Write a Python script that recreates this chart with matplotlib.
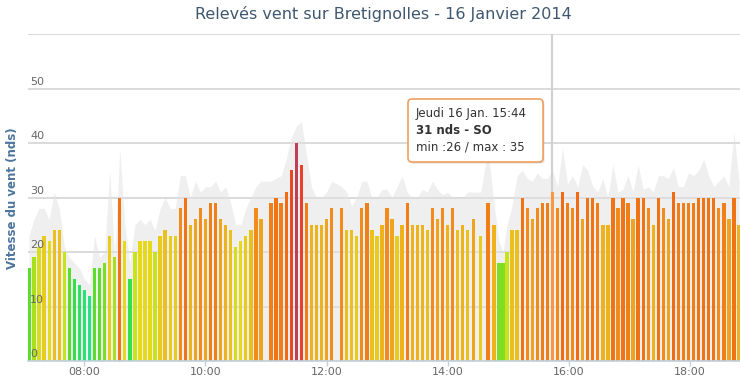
import matplotlib
matplotlib.use('Agg')
import matplotlib.pyplot as plt
from matplotlib.colors import LinearSegmentedColormap
from matplotlib.patches import FancyBboxPatch
from matplotlib.transforms import IdentityTransform
import numpy as np

# relevés toutes les ~5 minutes (heure, vent moyen en noeuds, rafale max)
times = [
    "07:05", "07:10", "07:15", "07:20", "07:25", "07:30", "07:35", "07:40", "07:45", "07:50", "07:55",
    "08:00", "08:05", "08:10", "08:15", "08:20", "08:25", "08:30", "08:35", "08:40", "08:45", "08:50", "08:55",
    "09:00", "09:05", "09:10", "09:15", "09:20", "09:25", "09:30", "09:35", "09:40", "09:45", "09:50", "09:55",
    "10:00", "10:05", "10:10", "10:15", "10:20", "10:25", "10:30", "10:35", "10:40", "10:45", "10:50", "10:55",
    "11:05", "11:10", "11:15", "11:20", "11:25", "11:30", "11:35", "11:40", "11:45", "11:50", "11:55",
    "12:00", "12:05", "12:15", "12:20", "12:25", "12:30", "12:35", "12:40", "12:45", "12:50", "12:55",
    "13:00", "13:05", "13:10", "13:15", "13:20", "13:25", "13:30", "13:35", "13:40", "13:45", "13:50", "13:55",
    "14:00", "14:05", "14:10", "14:15", "14:20", "14:26", "14:33", "14:40", "14:46", "14:51", "14:55", "14:59",
    "15:04", "15:09", "15:14", "15:19", "15:24", "15:29", "15:34", "15:39", "15:44", "15:49", "15:54", "15:59",
    "16:04", "16:09", "16:14", "16:19", "16:24", "16:29", "16:34", "16:39", "16:44", "16:49", "16:54", "16:59",
    "17:04", "17:09", "17:14", "17:19", "17:24", "17:29", "17:34", "17:39", "17:44", "17:49", "17:54", "17:59",
    "18:04", "18:09", "18:14", "18:19", "18:24", "18:29", "18:34", "18:39", "18:44", "18:49",
]
speeds = [
    17, 19, 21, 23, 22, 24, 24, 20, 17, 15, 14,
    13, 12, 17, 17, 18, 23, 19, 30, 22, 15, 20, 22,
    22, 22, 20, 23, 24, 23, 23, 28, 30, 25, 26, 28,
    26, 29, 29, 26, 25, 24, 21, 22, 23, 24, 28, 26,
    29, 30, 29, 31, 35, 40, 36, 29, 25, 25, 25,
    26, 28, 28, 24, 24, 23, 28, 29, 24, 23, 25,
    28, 26, 23, 25, 29, 25, 25, 25, 24, 28, 26, 28,
    25, 28, 24, 25, 24, 26, 23, 29, 25, 18, 18, 20,
    24, 24, 30, 28, 26, 28, 29, 29, 31, 28, 31, 29,
    28, 31, 26, 30, 30, 29, 25, 25, 30, 28, 30, 29,
    26, 30, 30, 28, 25, 30, 28, 26, 31, 29, 29, 29,
    29, 30, 30, 30, 30, 28, 29, 26, 30, 25,
]
gusts = [
    23, 26, 28, 28, 26, 31, 28, 21, 19, 18, 17,
    15, 14, 23, 19, 20, 35, 19, 39, 25, 18, 25, 26,
    25, 26, 24, 28, 30, 28, 28, 34, 34, 30, 33, 31,
    32, 32, 33, 31, 32, 29, 25, 25, 28, 30, 32, 33,
    33, 33.5, 34, 37, 41, 43, 44, 38, 32, 30, 30,
    31, 33, 32, 31, 28.5, 30, 33, 33, 30, 30, 31.5,
    31.5, 30, 32, 34, 31, 30, 30, 31.5, 31, 33, 31.5, 30.5,
    31, 30, 30, 30, 31, 31, 31, 39, 29, 22, 20, 25,
    28.5, 34, 35, 33.5, 33, 34.5, 33.5, 33.5, 35, 32, 39, 32.5,
    34, 32, 36, 35, 32, 31, 33.5, 30, 36, 31, 31.5, 34,
    31, 36, 31.5, 32, 31, 34, 34, 33.5, 35.5, 32, 32, 34.5,
    34, 35, 37, 34, 32, 33, 34, 32, 42, 33,
]
hour_ticks = ["08:00", "10:00", "12:00", "14:00", "16:00", "18:00"]
y_ticks = [0, 10, 20, 30, 40, 50, 60]

hover_time = "15:44"
tooltip_lines = ["Jeudi 16 Jan. 15:44", "31 nds - SO", "min :26 / max : 35"]


def to_minutes(hhmm):
    h, m = hhmm.split(":")
    return int(h) * 60 + int(m)


x = np.array([to_minutes(t) for t in times])
speeds = np.array(speeds)

# couleur selon la force du vent
levels = [12, 15, 17, 19, 20, 22, 24, 26, 28, 30, 33, 36, 40]
level_colors = ['#22e38a', '#33e04a', '#5cdd2a', '#a8e01c', '#c8e418', '#e6d81a',
                '#ecc01c', '#f0a41c', '#f28a1c', '#f07414', '#f05a10', '#e8402a', '#bf3f55']
lo, hi = levels[0], levels[-1]
cmap = LinearSegmentedColormap.from_list(
    'vent', [((v - lo) / (hi - lo), c) for v, c in zip(levels, level_colors)])
bar_colors = [cmap(np.clip((v - lo) / (hi - lo), 0, 1)) for v in speeds]
hover_idx = times.index(hover_time)
bar_colors[hover_idx] = '#f79845'

fig = plt.figure(figsize=(7.4, 3.8), dpi=100)
ax = fig.add_axes([28 / 740, 19 / 380, 712 / 740, 327 / 380])

ax.fill_between(x, 0, gusts, color='#e2e2e2', alpha=0.55, lw=0, zorder=2)
ax.axvline(to_minutes(hover_time), color='#d0d0d0', lw=1.5, zorder=2.5)
ax.bar(x, speeds, width=3.3, color=bar_colors, linewidth=0, zorder=3)

ax.set_xlim(424, 1130)
ax.set_ylim(0, 60)
ax.set_yticks(y_ticks)
ax.yaxis.grid(True, color='#d8d8d8', lw=1.3, zorder=1)
ax.set_axisbelow(True)
ax.tick_params(axis='y', length=0, labelleft=False)
for v in y_ticks[:-1]:
    ax.annotate(str(v), xy=(0, v), xycoords=('axes fraction', 'data'),
                xytext=(1.5, 1.2), textcoords='offset points',
                ha='left', va='bottom', fontsize=8, color='#666666', zorder=5)

ax.set_xticks([to_minutes(t) for t in hour_ticks])
ax.set_xticklabels(hour_ticks)
ax.tick_params(axis='x', length=3.6, width=1, color='#c0d0e0', pad=1,
               labelsize=8, labelcolor='#666666')

for side in ['top', 'left', 'right']:
    ax.spines[side].set_visible(False)
ax.spines['bottom'].set_color('#c0d0e0')
ax.spines['bottom'].set_linewidth(1.2)
ax.spines['bottom'].set_zorder(4)

fig.text(383 / 740, 1 - 14 / 380, "Relevés vent sur Bretignolles - 16 Janvier 2014",
         ha='center', va='center', fontsize=11.5, color='#3e576f')
fig.text(13 / 740, 1 - 198 / 380, "Vitesse du vent (nds)", rotation=90,
         ha='center', va='center', fontsize=8.5, fontweight='bold', color='#4d759e')

# infobulle du point survolé
bx0, by0, bw, bh = 408, 380 - 162, 135, 63
for off, a in [(2, 0.06), (1, 0.12)]:
    shadow = FancyBboxPatch((bx0 + off, by0 - off), bw, bh,
                            boxstyle='round,pad=0,rounding_size=4',
                            transform=IdentityTransform(), fc='black', ec='none', alpha=a)
    fig.add_artist(shadow)
box = FancyBboxPatch((bx0, by0), bw, bh, boxstyle='round,pad=0,rounding_size=4',
                     transform=IdentityTransform(), fc='white', ec='#f0a060', lw=1.2)
fig.add_artist(box)
for i, line in enumerate(tooltip_lines):
    fig.text(416 / 740, 1 - (114 + 16.3 * i) / 380, line, ha='left', va='center',
             fontsize=8.5, color='#333333', fontweight='bold' if i == 1 else 'normal')

fig.savefig('out.png', dpi=100)
